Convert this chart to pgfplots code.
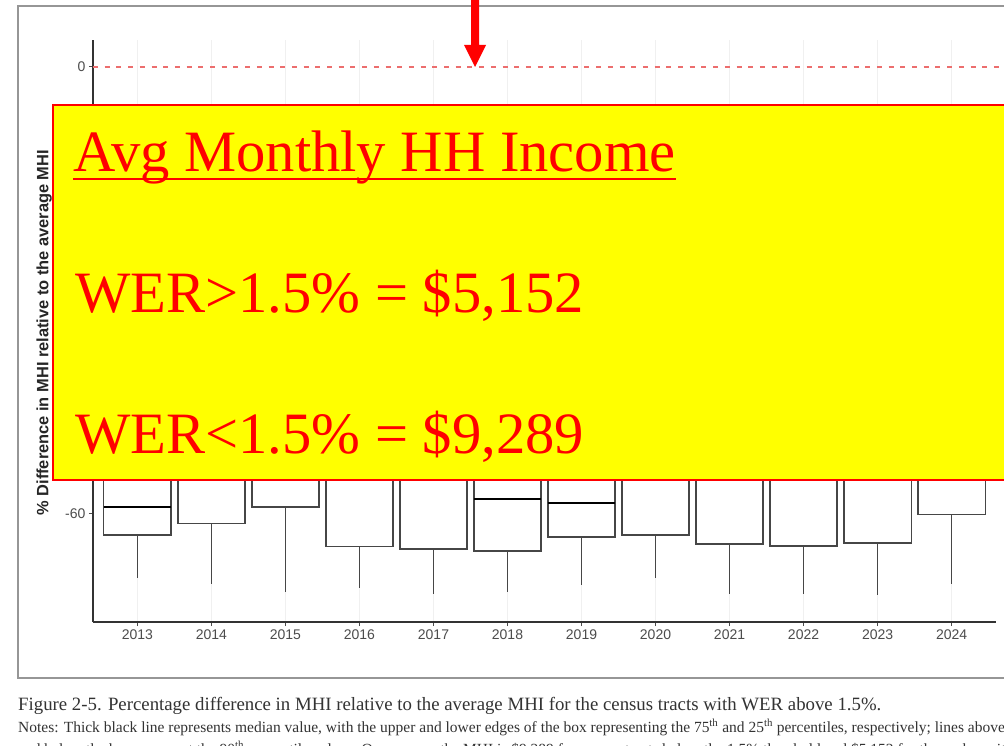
\documentclass[border=0pt]{standalone}
\usepackage{fontspec}
\setmainfont{Liberation Serif}
\newfontfamily\axisfont{Liberation Sans}
\usepackage{pgfplots}
\pgfplotsset{compat=1.18}
\usepackage{pgfplotstable}
\usepgfplotslibrary{statistics}

\definecolor{zeroline}{RGB}{236,110,110}
\definecolor{boxcol}{RGB}{70,70,70}
\definecolor{framecol}{RGB}{150,150,150}
\definecolor{calloutyellow}{RGB}{255,255,0}
\definecolor{calloutred}{RGB}{255,0,0}

% year index, lower whisker, lower quartile, median, upper quartile, upper whisker
\pgfplotstableread{
pos  lw     lq     med    uq     uw
0   -68.6  -62.8  -59.1  -45   -25
1   -69.4  -61.3  -53.0  -42   -22
2   -70.5  -59.1  -50.0  -38   -18
3   -69.9  -64.4  -54.0  -44   -24
4   -70.7  -64.7  -54.0  -44   -24
5   -70.5  -65.0  -58.0  -45   -25
6   -69.5  -63.1  -58.5  -45   -25
7   -68.6  -62.8  -54.0  -44   -24
8   -70.7  -64.0  -54.0  -44   -24
9   -70.7  -64.3  -54.0  -44   -24
10  -70.9  -63.9  -54.0  -44   -24
11  -69.4  -60.1  -52.0  -40   -20
}\boxdata

\begin{document}
\begin{tikzpicture}
\useasboundingbox (0pt,0pt) rectangle (1004pt,745pt);
\clip (0pt,0pt) rectangle (1004pt,745pt);
\fill[white] (0pt,0pt) rectangle (1004pt,745pt);
% outer frame of the figure
\draw[framecol, line width=2.5pt] (18pt,739pt) rectangle (1030pt,67pt);

\begin{axis}[
  at={(93pt,123pt)}, anchor=south west,
  scale only axis, width=903pt, height=582pt,
  xmin=-0.6, xmax=11.6, ymin=-74.5, ymax=3.6,
  axis lines=left,
  axis line style={-, line width=1.6pt, black!80},
  xtick={0,...,11},
  xticklabels={2013,2014,2015,2016,2017,2018,2019,2020,2021,2022,2023,2024},
  ytick={-60,-40,-20,0},
  yticklabels={-60,-40,-20,0},
  tick align=outside, major tick length=4pt,
  tick style={black!70, line width=1pt},
  tick label style={font=\axisfont\fontsize{14}{14}\selectfont, text=black!70},
  xmajorgrids, grid style={black!6, line width=1pt},
  ylabel={\% Difference in MHI relative to the average MHI},
  every axis y label/.style={at={(axis description cs:-0.054,0.497)}, rotate=90, anchor=center,
     font=\axisfont\bfseries\fontsize{16.4}{17}\selectfont, text=black!85},
  boxplot/draw direction=y,
  boxplot/box extend=0.91,
  boxplot/whisker extend=0,
  clip=false,
]
\pgfplotstablegetrowsof{\boxdata}
\pgfmathtruncatemacro\lastrow{\pgfplotsretval-1}
\pgfplotsinvokeforeach{0,...,\lastrow}{
  \pgfplotstablegetelem{#1}{lw}\of\boxdata \let\vlw\pgfplotsretval
  \pgfplotstablegetelem{#1}{lq}\of\boxdata \let\vlq\pgfplotsretval
  \pgfplotstablegetelem{#1}{med}\of\boxdata \let\vmed\pgfplotsretval
  \pgfplotstablegetelem{#1}{uq}\of\boxdata \let\vuq\pgfplotsretval
  \pgfplotstablegetelem{#1}{uw}\of\boxdata \let\vuw\pgfplotsretval
  \edef\doplot{\noexpand\addplot[boxcol, line width=1.5pt, fill=white,
    boxplot/every median/.style={black, line width=2.2pt},
    boxplot prepared={draw position=#1, lower whisker=\vlw, lower quartile=\vlq,
      median=\vmed, upper quartile=\vuq, upper whisker=\vuw}] coordinates {};}
  \doplot
}
\addplot[zeroline, line width=1.8pt, dash pattern=on 5pt off 6.7pt] coordinates {(-0.6,0) (11.75,0)};
\end{axis}

% red arrow
\fill[calloutred] (471pt,760pt) -- (479pt,760pt) -- (479pt,700pt) -- (486pt,700pt) -- (475pt,678pt) -- (464pt,700pt) -- (471pt,700pt) -- cycle;

% yellow callout
\filldraw[fill=calloutyellow, draw=calloutred, line width=1.5pt] (53pt,640pt) rectangle (1030pt,265pt);
\node[anchor=base west, inner sep=0, text=calloutred, font=\fontsize{58.6}{60}\selectfont] (t1) at (73pt,573pt) {Avg Monthly HH Income};
\draw[calloutred, line width=2.4pt] ([yshift=-7pt]t1.base west) -- ([yshift=-7pt]t1.base east);
\node[anchor=base west, inner sep=0, text=calloutred, font=\fontsize{58.6}{60}\selectfont] at (75pt,432pt) {WER>1.5\% = \$5,152};
\node[anchor=base west, inner sep=0, text=calloutred, font=\fontsize{58.6}{60}\selectfont] at (75pt,291pt) {WER<1.5\% = \$9,289};

% caption
\node[anchor=base west, inner sep=0, text=black!80, font=\fontsize{18.8}{20}\selectfont] at (18pt,35pt)
  {Figure 2-5. Percentage difference in MHI relative to the average MHI for the census tracts with WER above 1.5\%.};
\node[anchor=base west, inner sep=0, text=black!80, font=\fontsize{15.5}{16}\selectfont] at (18pt,13pt)
  {Notes: Thick black line represents median value, with the upper and lower edges of the box representing the 75\textsuperscript{th} and 25\textsuperscript{th} percentiles, respectively; lines above};
\node[anchor=base west, inner sep=0, text=black!80, font=\fontsize{15.5}{16}\selectfont] at (18pt,-9pt)
  {and below the box represent the 90\textsuperscript{th} percentile values. On average, the MHI is \$9,289 for census tracts below the 1.5\% threshold and \$5,152 for those above it.};
\end{tikzpicture}
\end{document}
